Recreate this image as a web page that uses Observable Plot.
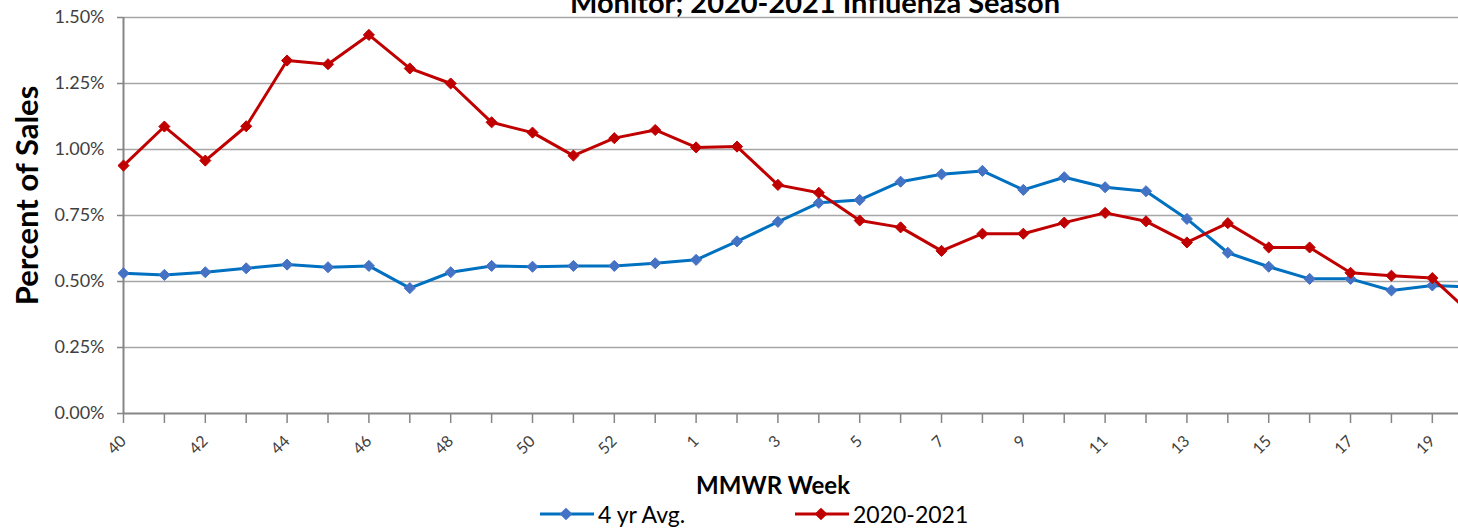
<!DOCTYPE html>
<html>
<head>
<meta charset="utf-8">
<script src="https://cdn.jsdelivr.net/npm/d3@7"></script>
<script src="https://cdn.jsdelivr.net/npm/@observablehq/plot@0.6"></script>
<style>
  body { margin: 0; background: #fff; }
  #wrap { position: relative; width: 1458px; height: 529px; overflow: hidden; font-family: Lato, sans-serif; background: #fff; }
  #title { position: absolute; top: -13px; left: 815px; transform: translateX(-50%); white-space: nowrap;
           font-size: 29px; line-height: 29px; font-weight: bold; color: #000; z-index: 2; }
  #legend { position: relative; height: 31px; font-size: 23px; color: #000; }
  .item { position: absolute; top: 0; height: 31px; display: flex; align-items: center; white-space: nowrap; }
  .item svg { margin-right: 3px; }
</style>
</head>
<body>
<div id="wrap">
  <div id="title">Monitor; 2020-2021 Influenza Season</div>
  <div id="chart"></div>
  <div id="legend"></div>
</div>
<script>
// MMWR weeks of the 2020-2021 season (2020 has a week 53)
const weeks = [40, 41, 42, 43, 44, 45, 46, 47, 48, 49, 50, 51, 52, 53,
               1, 2, 3, 4, 5, 6, 7, 8, 9, 10, 11, 12, 13, 14, 15, 16, 17, 18, 19, 20];
// Percent of sales (in %)
const avg4yr = [0.531, 0.525, 0.535, 0.550, 0.564, 0.554, 0.559, 0.475, 0.535, 0.559, 0.556, 0.559, 0.559, 0.569,
                0.582, 0.652, 0.726, 0.798, 0.809, 0.878, 0.906, 0.919, 0.847, 0.895, 0.857, 0.842, 0.737, 0.609,
                0.556, 0.510, 0.510, 0.466, 0.485, 0.479];
const season2021 = [0.939, 1.087, 0.958, 1.088, 1.337, 1.323, 1.434, 1.307, 1.250, 1.103, 1.064, 0.977, 1.043, 1.074,
                    1.008, 1.011, 0.866, 0.836, 0.731, 0.705, 0.616, 0.681, 0.681, 0.723, 0.760, 0.728, 0.648, 0.721,
                    0.629, 0.629, 0.533, 0.522, 0.513, 0.370];
const seriesNames = ["4 yr Avg.", "2020-2021"];
const yTicks = [0, 0.25, 0.5, 0.75, 1.0, 1.25, 1.5];
const xLabelWeeks = [40, 42, 44, 46, 48, 50, 52, 1, 3, 5, 7, 9, 11, 13, 15, 17, 19];

const lineColors = ["#0070C0", "#C00000"];
const markerColors = ["#4472C4", "#C00000"];

const idx = weeks.map((w, i) => i);
const blueRows = weeks.map((w, i) => ({i, week: w, v: avg4yr[i]}));
const redRows = weeks.map((w, i) => ({i, week: w, v: season2021[i]}));
const labelIdx = idx.filter(i => xLabelWeeks.includes(weeks[i]) && i < 33);

const chart = Plot.plot({
  width: 1458,
  height: 498,
  marginLeft: 123,
  marginRight: 0,
  marginTop: 17,
  marginBottom: 85,
  style: {fontFamily: "Lato, sans-serif", background: "white", overflow: "hidden"},
  x: {type: "linear", domain: [0, 32.64]},
  y: {domain: [0, 1.5]},
  marks: [
    Plot.gridY(yTicks.slice(1), {stroke: "#a6a6a6", strokeOpacity: 1, strokeWidth: 1.3}),
    Plot.axisY(yTicks, {tickFormat: d => d.toFixed(2) + "%", tickSize: 6, tickPadding: 13,
                        fontSize: 18, fill: "#404040", stroke: "#868686", strokeWidth: 1.5, label: null}),
    Plot.axisX(idx, {tickSize: 10, fill: "none", stroke: "#868686", strokeWidth: 1.5, label: null}),
    Plot.axisX(labelIdx, {tickSize: 0, tickRotate: -45, tickPadding: 25, tickFormat: i => String(weeks[i]),
                          fontSize: 16, fill: "#404040", label: null}),
    Plot.ruleX([0], {y1: 0, y2: 1.5, stroke: "#868686", strokeWidth: 2}),
    Plot.ruleY([0], {stroke: "#868686", strokeWidth: 2}),
    Plot.line(blueRows, {x: "i", y: "v", stroke: lineColors[0], strokeWidth: 3}),
    Plot.dot(blueRows, {x: "i", y: "v", symbol: "diamond2", r: 5, fill: markerColors[0], stroke: markerColors[0], strokeWidth: 1}),
    Plot.line(redRows, {x: "i", y: "v", stroke: lineColors[1], strokeWidth: 3}),
    Plot.dot(redRows, {x: "i", y: "v", symbol: "diamond2", r: 5, fill: markerColors[1], stroke: markerColors[1], strokeWidth: 1}),
    Plot.text(["MMWR Week"], {frameAnchor: "bottom", dx: -18, dy: 73, lineAnchor: "middle", textAnchor: "middle",
                              fontSize: 24, fontWeight: "bold", fill: "#000"}),
    Plot.text(["Percent of Sales"], {frameAnchor: "left", dx: -95, dy: -20, rotate: -90, lineAnchor: "middle",
                                     textAnchor: "middle", fontSize: 31, fontWeight: "bold", fill: "#000"})
  ]
});
document.getElementById("chart").appendChild(chart);

// Legend below the chart
const legend = document.getElementById("legend");
const legendLeft = [539, 794];
seriesNames.forEach((name, k) => {
  const item = document.createElement("div");
  item.className = "item";
  item.style.left = legendLeft[k] + "px";
  item.innerHTML = `<svg width="56" height="14"><line x1="1" y1="7" x2="55" y2="7" stroke="${lineColors[k]}" stroke-width="3"/>
    <rect x="22.5" y="2.5" width="9" height="9" transform="rotate(45 27 7)" fill="${markerColors[k]}"/></svg><span>${name}</span>`;
  legend.appendChild(item);
});
</script>
</body>
</html>
